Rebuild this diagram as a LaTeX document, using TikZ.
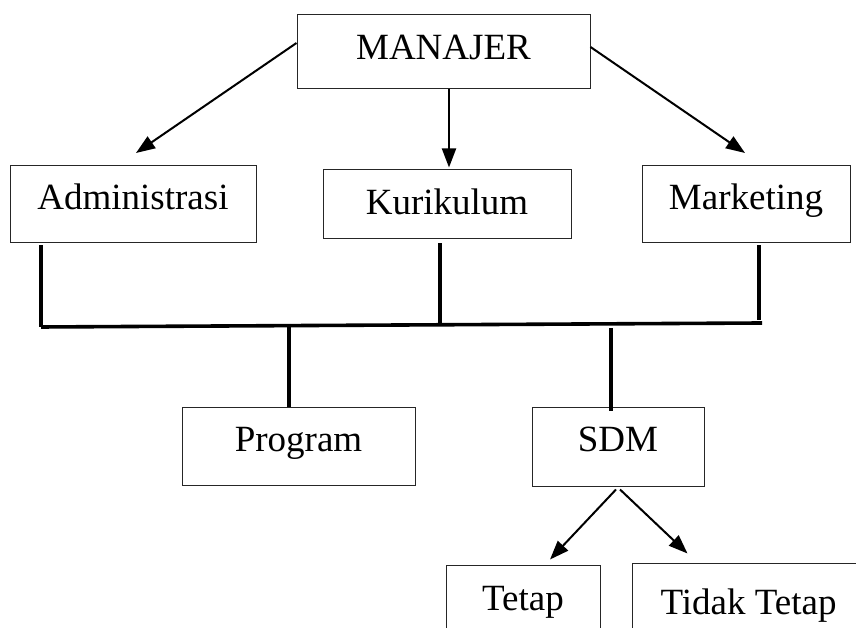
\documentclass[tikz,border=0pt]{standalone}
\usepackage{fontspec}
\setmainfont{Liberation Serif}
\usetikzlibrary{arrows.meta}
\tikzset{>={Triangle[length=19pt,width=14pt]}}

\begin{document}
\begin{tikzpicture}[x=1pt,y=1pt,
    box/.style={draw=black!85, line width=1pt, inner sep=0pt, align=center,
        text height=25pt, text depth=14pt, font=\fontsize{37}{44}\selectfont},
    arr/.style={->, line width=2pt},
    bus/.style={line width=3.6pt}]
    \useasboundingbox (0,0) rectangle (856,628);
    \clip (0,0) rectangle (856,628);
    \node[box, minimum width=293pt, minimum height=74pt, text depth=9pt] (manajer) at (443.5,576) {MANAJER};
    \node[box, minimum width=246pt, minimum height=77pt] (admin) at (133,423.5) {Administrasi};
    \node[box, minimum width=248pt, minimum height=69pt, text depth=4pt] (kurikulum) at (447,423.5) {Kurikulum};
    \node[box, minimum width=208pt, minimum height=77pt] (marketing) at (746,423.5) {Marketing};
    \node[box, minimum width=233pt, minimum height=78pt, text depth=15pt] (program) at (298.5,181) {Program};
    \node[box, minimum width=172pt, minimum height=79pt, text depth=16pt] (sdm) at (618,180.5) {SDM};
    \node[box, minimum width=154pt, minimum height=74pt, text depth=9pt] (tetap) at (523,25) {Tetap};
    \node[box, minimum width=233pt, minimum height=74pt, text height=28pt, text depth=0pt] (tidak) at (748.5,27) {Tidak Tetap};
    \coordinate (busL) at (41,301);
    \coordinate (busR) at (762,305);
    % manajer ke bagian
    \draw[arr] ([yshift=9pt]manajer.west) -- ([shift={(3,12.5)}]admin.north);
    \draw[arr] ([xshift=5.5pt]manajer.south) -- ([shift={(2,2)}]kurikulum.north);
    \draw[arr] ([yshift=5pt]manajer.east) -- ([shift={(-1,12.5)}]marketing.north);
    % garis penghubung
    \draw[bus] ([xshift=-92pt,yshift=-2pt]admin.south) -- (busL);
    \draw[bus] ([xshift=-7pt,yshift=-4pt]kurikulum.south) -- (440,304);
    \draw[bus] ([xshift=13pt,yshift=-2pt]marketing.south) -- (759,308);
    \draw[bus] (busL) -- (busR);
    \draw[bus] (289,304) -- ([xshift=-9.5pt]program.north);
    \draw[bus] (611,300) -- ([xshift=-7pt,yshift=-4pt]sdm.north);
    % sdm
    \draw[arr] ([xshift=-2pt,yshift=-2pt]sdm.south) -- ([shift={(27,6)}]tetap.north);
    \draw[arr] ([xshift=2pt,yshift=-2pt]sdm.south) -- ([shift={(56,10)}]tidak.north west);
\end{tikzpicture}
\end{document}
